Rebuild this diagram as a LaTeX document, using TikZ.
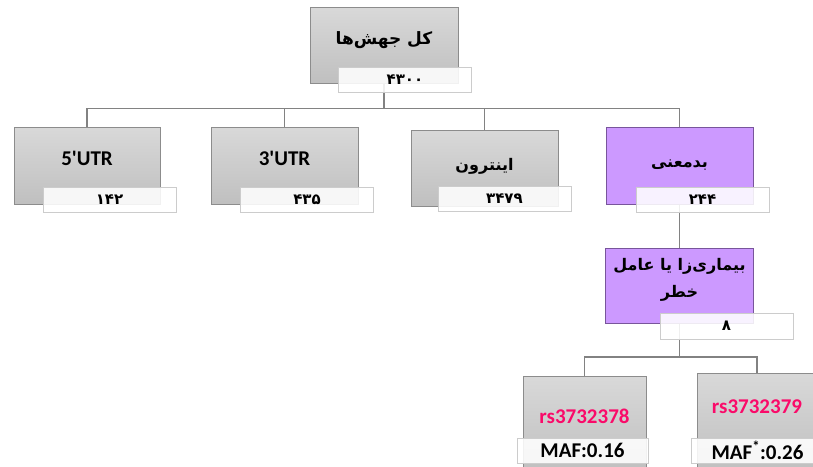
\documentclass[tikz,border=0pt]{standalone}
\usepackage{fontspec}
\setmainfont{Carlito}[Ligatures=TeXOff]
\newfontfamily\fafont[Script=Arabic]{DejaVu Sans}
\TeXXeTstate=1
\usetikzlibrary{backgrounds}
\definecolor{mutpurple}{RGB}{204,153,255}
\definecolor{mutedge}{RGB}{120,85,155}
\definecolor{rspink}{RGB}{250,10,105}
\definecolor{linegray}{RGB}{130,130,130}
\newcommand\fa[1]{{\fafont\fontsize{16}{27}\selectfont\beginR #1\endR}}
\tikzset
{
    basebox/.style  = {rectangle, line width=0.7pt, minimum width=147pt, minimum height=77pt, inner sep=0pt, align=center, text height=13.5pt, text depth=14pt, font=\bfseries\fontsize{21}{25}\selectfont},
    graybox/.style  = {basebox, draw=gray!90, top color=gray!30, bottom color=gray!50},
    purplebox/.style = {basebox, draw=mutedge, fill=mutpurple},
    numbox/.style   = {rectangle, draw=gray!40, line width=0.7pt, fill=white, fill opacity=0.88, text opacity=1, minimum width=133pt, minimum height=25pt, inner sep=0pt, font=\fafont\bfseries\fontsize{15}{17}\selectfont},
    conn/.style     = {draw=linegray, line width=1.5pt}
}

\begin{document}
\begin{tikzpicture}[x=1pt, y=-1pt]
	\useasboundingbox (0,0) rectangle (813,466);
	\clip (0,0) rectangle (813,466);

	\node (all) [graybox, minimum width=148pt, minimum height=76pt, text depth=14pt] at (384,45) {{\fafont\fontsize{17}{27}\selectfont\beginR کل جهش‌ها\endR}};
	\node (alln) [numbox] at (405,79.5) {۴۳۰۰};

	\node (utr5) [graybox, minimum width=146pt] at (87,165.5) {5'UTR};
	\node (utr5n) [numbox] at (109.5,199.5) {۱۴۲};
	\node (utr3) [graybox] at (284.5,165.5) {3'UTR};
	\node (utr3n) [numbox] at (307,199.5) {۴۳۵};
	\node (intr) [graybox, minimum height=76pt, text depth=9pt] at (484.5,168) {\fa{اینترون}};
	\node (intrn) [numbox] at (504.5,199) {۳۴۷۹};
	\node (nons) [purplebox, text depth=10pt] at (679.5,165.5) {\fa{بدمعنی}};
	\node (nonsn) [numbox] at (702.5,199.5) {۲۴۴};

	\node (path) [purplebox, minimum width=148pt, minimum height=75pt, text height=34pt, text depth=10pt, font=\fafont\bfseries\fontsize{16}{27}\selectfont] at (679.5,285.5) {\fa{بیماری‌زا یا عامل}\\\fa{خطر}};
	\node (pathn) [numbox, minimum height=26pt] at (726.5,326) {۸};

	\node (rsa) [graybox, minimum width=123pt, minimum height=96pt, text depth=15pt, text=rspink] at (584.5,424) {rs3732378};
	\node (rsan) [numbox, minimum width=131pt, font=\bfseries\fontsize{21}{25}\selectfont] at (582.5,450.5) {MAF:0.16};
	\node (rsb) [graybox, minimum width=120pt, minimum height=99pt, text depth=32pt, text=rspink] at (757,422.5) {rs3732379};
	\node (rsbn) [numbox, font=\bfseries\fontsize{21}{25}\selectfont] at (757.5,450.5) {MAF\textsuperscript{*}:0.26};

	\begin{pgfonlayer}{background}
		\coordinate (bus1) at (384,108.5);
		\coordinate (bus2) at (679.5,357);
		\draw [conn] (all.south) -- (bus1) -| (utr5.north);
		\draw [conn] (bus1) -| (utr3.north);
		\draw [conn] (bus1) -| (intr.north);
		\draw [conn] (bus1) -| (nons.north);
		\draw [conn] (nons.south) -- (path.north);
		\draw [conn] (path.south) -- (bus2) -| (rsa.north);
		\draw [conn] (bus2) -| (rsb.north);
	\end{pgfonlayer}
\end{tikzpicture}
\end{document}
